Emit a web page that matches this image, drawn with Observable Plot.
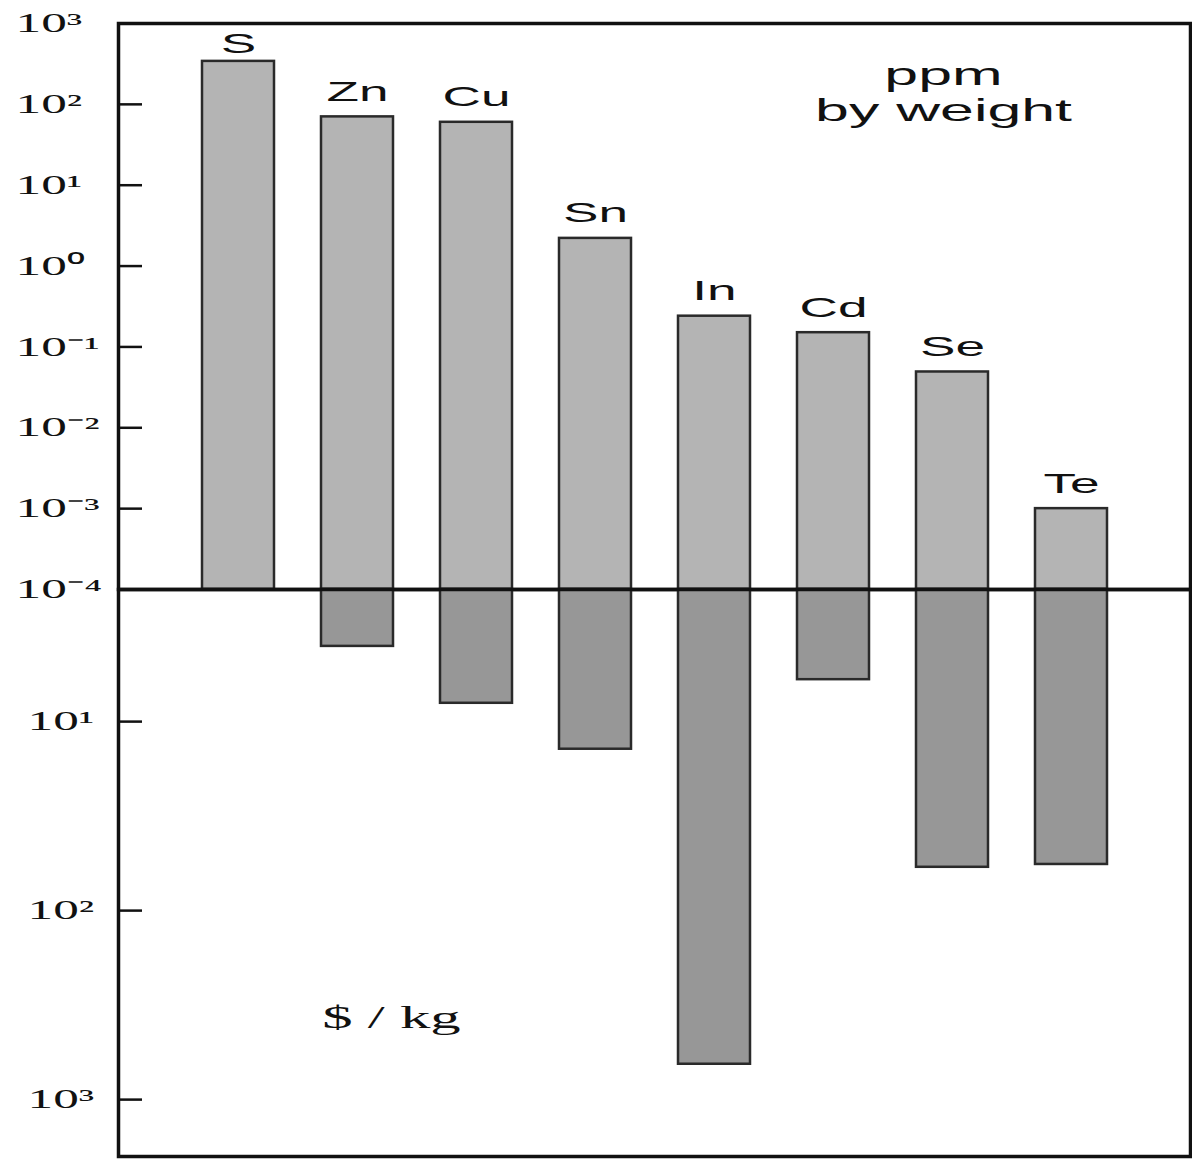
<!DOCTYPE html>
<html>
<head>
<meta charset="utf-8">
<script src="https://cdn.jsdelivr.net/npm/d3@7"></script>
<script src="https://cdn.jsdelivr.net/npm/@observablehq/plot@0.6"></script>
<style>
  html, body { margin: 0; padding: 0; background: #fff; }
  #chart svg { display: block; }
</style>
</head>
<body>
<div id="chart"></div>
<script>
// ---- data ----
const elements   = ["S", "Zn", "Cu", "Sn", "In", "Cd", "Se", "Te"];
const ppmByWeight = [340, 70, 60, 2.2, 0.24, 0.15, 0.049, 0.001];
const pricePerKg  = [null, 4, 8, 14, 650, 6, 59, 57];
const ppmTicks    = [1e-4, 1e-3, 1e-2, 1e-1, 1, 10, 100, 1000];
const priceTicks  = [10, 100, 1000];
const ppmLabel    = "ppm\nby weight";
const priceLabel  = "$ / kg";

const rows = elements.map((el, i) => ({el, ppm: ppmByWeight[i], price: pricePerKg[i]}));

// ---- style ----
const SANS = "'Liberation Sans', Arial, Helvetica, sans-serif";
const SERIF = "'Liberation Serif', 'Times New Roman', Times, serif";
const SX = 1.9; // horizontal stretch of the lettering in the original
const W = 1192;
const ML = 118, MR = 2;
const PW = W - ML - MR;

const SUP = {"-": "\u207B", "0": "\u2070", "1": "\u00B9", "2": "\u00B2", "3": "\u00B3", "4": "\u2074",
             "5": "\u2075", "6": "\u2076", "7": "\u2077", "8": "\u2078", "9": "\u2079"};
const pow10 = v => "10" + String(Math.round(Math.log10(v))).split("").map(c => SUP[c]).join("");

const xScale = {domain: elements, paddingInner: 0.395, paddingOuter: 0.70, axis: null};

const upperPlot = Plot.plot({
  width: W, height: 589,
  marginLeft: ML, marginRight: MR, marginTop: 23, marginBottom: 0,
  style: {background: "transparent", overflow: "visible"},
  x: xScale,
  y: {type: "log", domain: [1e-4, 1e3], axis: null},
  marks: [
    Plot.barY(rows, {x: "el", y1: 1e-4, y2: "ppm", fill: "#b4b4b4", stroke: "#2a2a2a", strokeWidth: 2.5}),
    Plot.ruleY(ppmTicks, {y: d => d, insetRight: PW - 24, stroke: "#111", strokeWidth: 2.5}),
    Plot.text(ppmTicks, {y: d => d, text: pow10, frameAnchor: "left", textAnchor: "start", dx: -103,
      fontFamily: SERIF, fontSize: 27, fill: "#111"}),
    Plot.text(rows.filter(d => d.el !== "S"), {x: "el", y: "ppm", text: "el", lineAnchor: "bottom", dy: -16,
      fontFamily: SANS, fontSize: 28, fill: "#111"}),
    Plot.text(rows.filter(d => d.el === "S"), {x: "el", y: "ppm", text: "el", lineAnchor: "bottom", dy: -8,
      fontFamily: SANS, fontSize: 28, fill: "#111"}),
    Plot.text([ppmLabel], {text: d => d, frameAnchor: "top-right", dx: -247, dy: 37, lineAnchor: "top",
      textAnchor: "middle", lineHeight: 1.1, fontFamily: SANS, fontSize: 32, fill: "#111"}),
    Plot.frame({stroke: "#111", strokeWidth: 3.5})
  ]
});

const lowerPlot = Plot.plot({
  width: W, height: 572,
  marginLeft: ML, marginRight: MR, marginTop: 0, marginBottom: 5,
  style: {background: "transparent", overflow: "visible"},
  x: xScale,
  y: {type: "log", domain: [2, 2000], reverse: true, axis: null},
  marks: [
    Plot.barY(rows.filter(d => d.price != null), {x: "el", y1: 2, y2: "price", fill: "#979797", stroke: "#2a2a2a", strokeWidth: 2.5}),
    Plot.ruleY(priceTicks, {y: d => d, insetRight: PW - 24, stroke: "#111", strokeWidth: 2.5}),
    Plot.text(priceTicks, {y: d => d, text: pow10, frameAnchor: "left", textAnchor: "start", dx: -91,
      fontFamily: SERIF, fontSize: 27, fill: "#111"}),
    Plot.text([priceLabel], {text: d => d, frameAnchor: "top-left", dx: 273, dy: 438, lineAnchor: "bottom",
      textAnchor: "middle", fontFamily: SERIF, fontSize: 32, fill: "#111"}),
    Plot.frame({stroke: "#111", strokeWidth: 3.5})
  ]
});

// stretch the lettering horizontally about each text's anchor, as in the original
for (const svg of [upperPlot, lowerPlot]) {
  svg.querySelectorAll("text").forEach(t => {
    const tr = t.getAttribute("transform") || "";
    t.setAttribute("transform", tr + ` scale(${SX},1)`);
  });
}

const chart = document.getElementById("chart");
chart.appendChild(upperPlot);
chart.appendChild(lowerPlot);
</script>
</body>
</html>
